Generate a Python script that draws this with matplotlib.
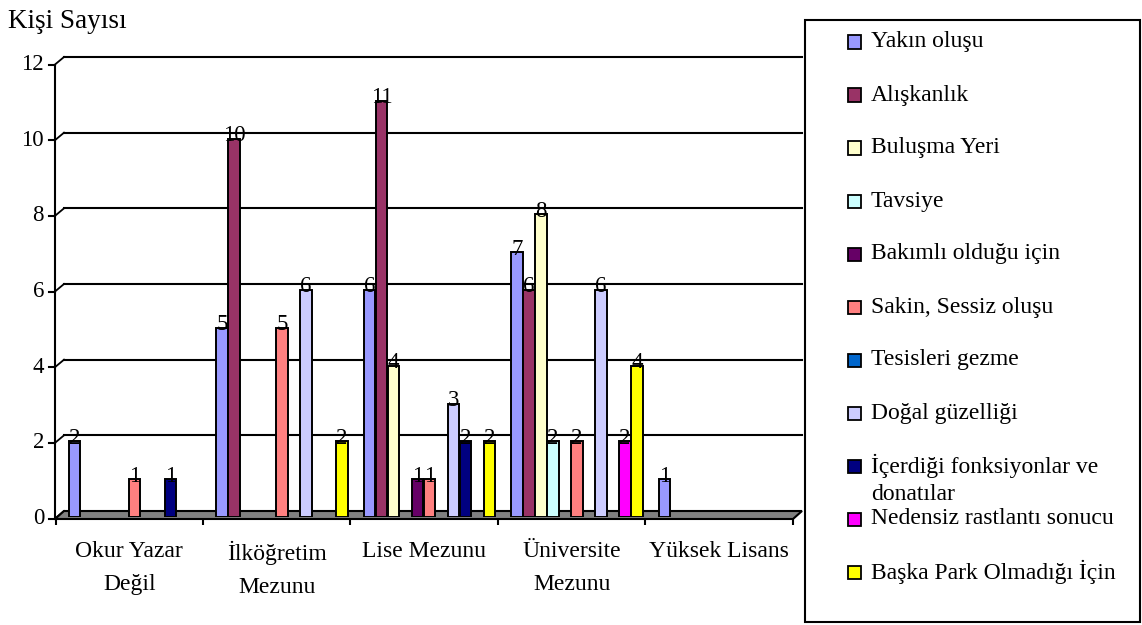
import matplotlib
matplotlib.use("Agg")
import matplotlib.pyplot as plt
from matplotlib.patches import Rectangle, Polygon
from matplotlib.transforms import offset_copy

plt.rcParams['font.family'] = ['Liberation Serif', 'DejaVu Serif']

# ---------------- data ----------------
categories = ["Okur Yazar\nDeğil", "İlköğretim\nMezunu", "Lise Mezunu",
              "Üniversite\nMezunu", "Yüksek Lisans"]
series_names = ["Yakın oluşu", "Alışkanlık", "Buluşma Yeri", "Tavsiye",
                "Bakımlı olduğu için", "Sakin, Sessiz oluşu", "Tesisleri gezme",
                "Doğal güzelliği", "İçerdiği fonksiyonlar ve\ndonatılar",
                "Nedensiz rastlantı sonucu", "Başka Park Olmadığı İçin"]
yakin_olusu = [2, 5, 6, 7, 1]
aliskanlik = [None, 10, 11, 6, None]
bulusma_yeri = [None, None, 4, 8, None]
tavsiye = [None, None, None, 2, None]
bakimli = [None, None, 1, None, None]
sakin_sessiz = [1, 5, 1, 2, None]
tesisleri_gezme = [None, None, None, None, None]
dogal_guzellik = [None, 6, 3, 6, None]
icerdigi_fonksiyonlar = [1, None, 2, None, None]
nedensiz = [None, None, None, 2, None]
baska_park = [None, 2, 2, 4, None]
series_values = [yakin_olusu, aliskanlik, bulusma_yeri, tavsiye, bakimli,
                 sakin_sessiz, tesisleri_gezme, dogal_guzellik,
                 icerdigi_fonksiyonlar, nedensiz, baska_park]
colors = ["#9999FF", "#993366", "#FFFFCC", "#CCFFFF", "#660066", "#FF8080",
          "#0066CC", "#CCCCFF", "#000080", "#FF00FF", "#FFFF00"]
yticks = [0, 2, 4, 6, 8, 10, 12]
y_title = "Kişi Sayısı"

# ---------------- layout ----------------
W, H = 1142, 625
fig = plt.figure(figsize=(W / 100, H / 100), dpi=100)
L_PX, R_PX, B_PX, T_PX = 55.5, 793.0, 517.0, 63.0
ax = fig.add_axes([L_PX / W, (H - B_PX) / H, (R_PX - L_PX) / W, (B_PX - T_PX) / H])
ax.set_xlim(-0.5, 4.5)
ax.set_ylim(0, 12)
for s in ax.spines.values():
    s.set_visible(False)
ax.set_yticks([])

def axx(p):
    return (p - L_PX) / (R_PX - L_PX)

def axy(p):
    return (B_PX - p) / (B_PX - T_PX)

FS_TICK = 16.5
FS_CAT = 17
ppu = (B_PX - T_PX) / 12.0  # pixels per unit
FRONT = -1.5 / ppu
BACK = 6.0 / ppu

# floor
floor = Polygon([(axx(55), axy(519)), (axx(793), axy(519)),
                 (axx(802), axy(511)), (axx(64), axy(511))],
                closed=True, transform=ax.transAxes, facecolor="#808080",
                edgecolor="black", linewidth=1.5, zorder=2, clip_on=False)
ax.add_patch(floor)

ytr = ax.get_yaxis_transform()
for v in yticks:
    if v > 0:
        ax.plot([axx(64), axx(802)], [v + BACK, v + BACK], color="black",
                linewidth=1.5, transform=ytr, clip_on=False, zorder=1)
    ax.plot([axx(55), axx(64)], [v + FRONT, v + BACK], color="black",
            linewidth=1.3, transform=ytr, clip_on=False, zorder=1)
    ax.plot([axx(49), axx(55)], [v + FRONT, v + FRONT], color="black",
            linewidth=1.5, transform=ytr, clip_on=False, zorder=1)
    ax.text(axx(44), v + FRONT, str(v), transform=ytr, ha="right",
            va="center", fontsize=FS_TICK)
ax.plot([axx(55), axx(55)], [0 + FRONT, 12 + FRONT], color="black",
        linewidth=1.5, transform=ytr, clip_on=False, zorder=1)

# category axis
ax.set_xticks(range(len(categories)))
ax.set_xticklabels(categories, fontsize=FS_CAT, linespacing=1.72)
ax.set_xticks([i - 0.5 for i in range(len(categories) + 1)], minor=True)
ax.tick_params(axis="x", which="major", length=0, pad=17.5)
ax.tick_params(axis="x", which="minor", length=6, width=1.5, direction="out")

# bars
slot = 12.0 / ((R_PX - L_PX) / 5)
group_shift = 5.25 / ((R_PX - L_PX) / 5)
lab_tr = offset_copy(ax.transData, fig=fig, x=0, y=3, units="dots")
for j, (vals, col) in enumerate(zip(series_values, colors)):
    xs, hs = [], []
    for i, v in enumerate(vals):
        if v is not None:
            xs.append(i + group_shift + (j - 5) * slot)
            hs.append(v)
    if not xs:
        continue
    ax.bar(xs, hs, width=slot * 0.97, color=col, edgecolor="black",
           linewidth=1.4, zorder=3)
    for x, v in zip(xs, hs):
        ax.text(x, v, str(v), transform=lab_tr, ha="center", va="center",
                fontsize=FS_TICK, zorder=5)

# y title
fig.text(8 / W, 1 - 22 / H, y_title, ha="left", va="center", fontsize=19.5)

# legend (drawn manually)
fig.patches.append(Rectangle((805 / W, 1 - 622 / H), (1140 - 805) / W,
                             (622 - 20) / H, transform=fig.transFigure,
                             facecolor="white", edgecolor="black",
                             linewidth=1.5, zorder=0))
LFS = 17
for k, (name, col) in enumerate(zip(series_names, colors)):
    yc = 42 + 53 * k
    fig.patches.append(Rectangle((848 / W, 1 - (yc + 6.5) / H), 13 / W, 13 / H,
                                 transform=fig.transFigure, facecolor=col,
                                 edgecolor="black", linewidth=1.3, zorder=2))
    for n, line in enumerate(name.split("\n")):
        fig.text(871 / W, 1 - (yc + 28 * n) / H, line, ha="left",
                 va="center", fontsize=LFS)

fig.savefig("out.png", dpi=100)
